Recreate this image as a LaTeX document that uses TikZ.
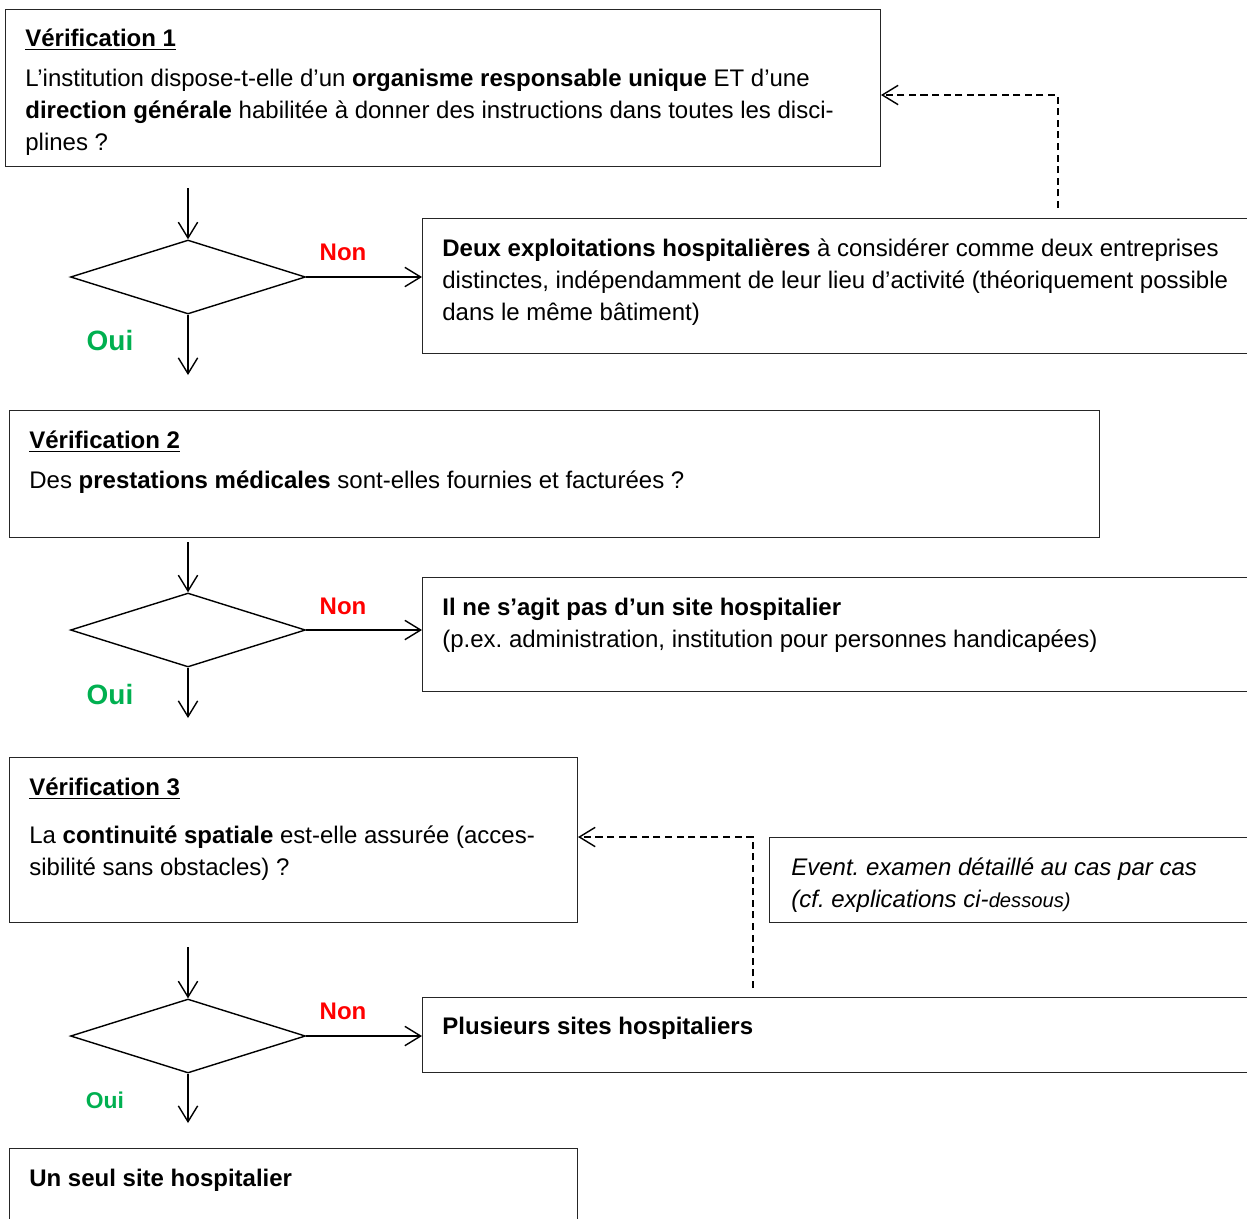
\documentclass[tikz,border=0pt]{standalone}
\usepackage{fontspec}
\setmainfont{Liberation Sans}
\usetikzlibrary{shapes.geometric,arrows.meta,positioning}

\definecolor{ouigreen}{RGB}{0,176,80}
\frenchspacing

\tikzset{
    box/.style={draw=black!85, line width=0.65pt, rectangle, inner sep=0, anchor=north west},
    txt/.style={anchor=north west, inner sep=0, align=left, font=\fontsize{13.66}{18.2}\selectfont},
    test/.style={diamond, draw, line width=0.8pt, minimum width=4.7cm, minimum height=1.48cm, inner sep=0},
    flow/.style={-{Straight Barb[length=9pt,width=11pt]}, line width=0.8pt},
    back/.style={flow, dash pattern=on 4pt off 2.6pt},
    non/.style={text=red, font=\fontsize{13.66}{16}\selectfont\bfseries},
    oui/.style={text=ouigreen, font=\fontsize{15.9}{18}\selectfont\bfseries},
}

\begin{document}
\begin{tikzpicture}[x=0.02cm, y=-0.02cm]
        \useasboundingbox (0,0) rectangle (1247,1218);
        \clip (0,0) rectangle (1247,1218);

        \node[box, minimum width=17.5cm, minimum height=3.14cm] (v1) at (5,9) {};
        \node[txt] (t1) at (25,28.5) {\underline{\textbf{Vérification 1}}\\[4.5pt]
            L’institution dispose-t-elle d’un \textbf{organisme responsable unique} ET d’une\\
            \textbf{direction générale} habilitée à donner des instructions dans toutes les disci-\\
            plines ?};

        \node[test] (d1) at (188,277) {};
        \coordinate (a1) at (188,188);
        \coordinate (b1) at (188,375);
        \draw[flow] (a1) -- (d1.north);
        \draw[flow] (d1.south) -- (b1);
        \node[oui] (oui1) at (110,341) {Oui};
        \node[non] (non1) at (343,252) {Non};

        \node[box, minimum width=17.56cm, minimum height=2.7cm] (r1) at (422,218) {};
        \node[txt] (tr1) at (442,238.5) {\textbf{Deux exploitations hospitalières} à considérer comme deux entreprises\\
            distinctes, indépendamment de leur lieu d’activité (théoriquement possible\\
            dans le même bâtiment)};
        \draw[flow] (d1.east) -- (d1.east -| r1.west);

        \coordinate (f1) at (1058,208);
        \coordinate (back1) at (1058,95);
        \draw[back] (f1) -- (back1) -- (back1 -| v1.east);

        \node[box, minimum width=21.8cm, minimum height=2.54cm] (v2) at (9,410) {};
        \node[txt] (t2) at (29,430.5) {\underline{\textbf{Vérification 2}}\\[4.5pt]
            Des \textbf{prestations médicales} sont-elles fournies et facturées ?};

        \node[test] (d2) at (188,630) {};
        \coordinate (a2) at (188,542);
        \coordinate (b2) at (188,718);
        \draw[flow] (a2) -- (d2.north);
        \draw[flow] (d2.south) -- (b2);
        \node[oui] (oui2) at (110,694) {Oui};
        \node[non] (non2) at (343,606) {Non};

        \node[box, minimum width=17.56cm, minimum height=2.28cm] (r2) at (422,577) {};
        \node[txt] (tr2) at (442,597.5) {\textbf{Il ne s’agit pas d’un site hospitalier}\\
            (p.ex. administration, institution pour personnes handicapées)};
        \draw[flow] (d2.east) -- (d2.east -| r2.west);

        \node[box, minimum width=11.36cm, minimum height=3.3cm] (v3) at (9,757) {};
        \node[txt] (t3) at (29,777.5) {\underline{\textbf{Vérification 3}}\\[9pt]
            La \textbf{continuité spatiale} est-elle assurée (acces-\\
            sibilité sans obstacles) ?};

        \node[box, minimum width=10.62cm, minimum height=1.7cm] (ev) at (769,837) {};
        \node[txt] (tev) at (791,857.5) {\textit{Event. examen détaillé au cas par cas}\\
            \textit{(cf. explications ci-{\fontsize{11.5}{14}\selectfont dessous)}}};

        \node[test] (d3) at (188,1036) {};
        \coordinate (a3) at (188,947);
        \coordinate (b3) at (188,1123);
        \draw[flow] (a3) -- (d3.north);
        \draw[flow] (d3.south) -- (b3);
        \node[oui, font=\fontsize{13}{15}\selectfont\bfseries] (oui3) at (105,1100) {Oui};
        \node[non] (non3) at (343,1011) {Non};

        \node[box, minimum width=17.56cm, minimum height=1.5cm] (r3) at (422,997) {};
        \node[txt] (tr3) at (442,1016.5) {\textbf{Plusieurs sites hospitaliers}};
        \draw[flow] (d3.east) -- (d3.east -| r3.west);

        \coordinate (f3) at (753,988);
        \coordinate (back3) at (753,837);
        \draw[back] (f3) -- (back3) -- (back3 -| v3.east);

        \node[box, minimum width=11.36cm, minimum height=3.04cm] (ok) at (9,1148) {};
        \node[txt] (tok) at (29,1168.5) {\textbf{Un seul site hospitalier}};

    \end{tikzpicture}
\end{document}
